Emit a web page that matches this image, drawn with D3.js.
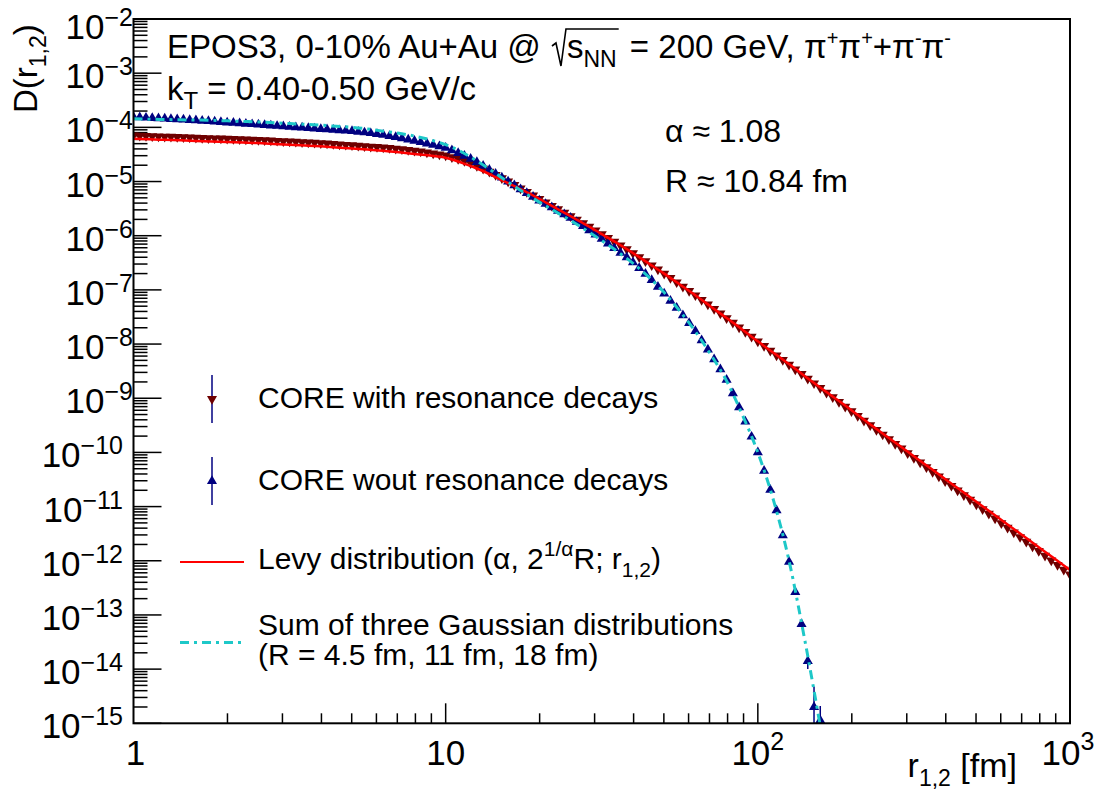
<!DOCTYPE html>
<html>
<head>
<meta charset="utf-8">
<script src="https://cdn.jsdelivr.net/npm/d3@7"></script>
<style>
  body { margin: 0; background: #fff; }
  text { font-family: "Liberation Sans", Arial, sans-serif; fill: #000; white-space: pre; }
</style>
</head>
<body>
<div id="chart"></div>
<script>
// 1: GLOBALS
const W = 1101, H = 792;
const frame = { left: 133.5, right: 1070, top: 19, bottom: 723.3 };

// 2: DATA (log10 r [fm], log10 D)
const logR = [
  0.00, 0.02, 0.04, 0.06, 0.08, 0.10, 0.12, 0.14, 0.16, 0.18,
  0.20, 0.22, 0.24, 0.26, 0.28, 0.30, 0.32, 0.34, 0.36, 0.38,
  0.40, 0.42, 0.44, 0.46, 0.48, 0.50, 0.52, 0.54, 0.56, 0.58,
  0.60, 0.62, 0.64, 0.66, 0.68, 0.70, 0.72, 0.74, 0.76, 0.78,
  0.80, 0.82, 0.84, 0.86, 0.88, 0.90, 0.92, 0.94, 0.96, 0.98,
  1.00, 1.02, 1.04, 1.06, 1.08, 1.10, 1.12, 1.14, 1.16, 1.18,
  1.20, 1.22, 1.24, 1.26, 1.28, 1.30, 1.32, 1.34, 1.36, 1.38,
  1.40, 1.42, 1.44, 1.46, 1.48, 1.50, 1.52, 1.54, 1.56, 1.58,
  1.60, 1.62, 1.64, 1.66, 1.68, 1.70, 1.72, 1.74, 1.76, 1.78,
  1.80, 1.82, 1.84, 1.86, 1.88, 1.90, 1.92, 1.94, 1.96, 1.98,
  2.00, 2.02, 2.04, 2.06, 2.08, 2.10, 2.12, 2.14, 2.16, 2.18,
  2.20, 2.22, 2.24, 2.26, 2.28, 2.30, 2.32, 2.34, 2.36, 2.38,
  2.40, 2.42, 2.44, 2.46, 2.48, 2.50, 2.52, 2.54, 2.56, 2.58,
  2.60, 2.62, 2.64, 2.66, 2.68, 2.70, 2.72, 2.74, 2.76, 2.78,
  2.80, 2.82, 2.84, 2.86, 2.88, 2.90, 2.92, 2.94, 2.96, 2.98,
  3.00
];

// CORE with resonance decays
const logDWith = [
  -4.150, -4.154, -4.158, -4.162, -4.166, -4.170, -4.174, -4.178, -4.182, -4.186,
  -4.190, -4.194, -4.198, -4.202, -4.206, -4.210, -4.214, -4.218, -4.222, -4.226,
  -4.230, -4.236, -4.242, -4.248, -4.254, -4.260, -4.266, -4.272, -4.278, -4.284,
  -4.290, -4.298, -4.306, -4.314, -4.322, -4.330, -4.338, -4.346, -4.355, -4.362,
  -4.370, -4.381, -4.392, -4.404, -4.417, -4.430, -4.446, -4.463, -4.481, -4.500,
  -4.520, -4.550, -4.582, -4.618, -4.660, -4.710, -4.764, -4.820, -4.880, -4.940,
  -5.000, -5.064, -5.128, -5.192, -5.256, -5.320, -5.384, -5.448, -5.512, -5.576,
  -5.640, -5.704, -5.768, -5.833, -5.900, -5.970, -6.040, -6.110, -6.180, -6.250,
  -6.320, -6.395, -6.470, -6.546, -6.623, -6.700, -6.780, -6.860, -6.940, -7.020,
  -7.100, -7.184, -7.268, -7.352, -7.436, -7.520, -7.606, -7.692, -7.778, -7.864,
  -7.950, -8.036, -8.122, -8.208, -8.294, -8.380, -8.466, -8.552, -8.638, -8.724,
  -8.810, -8.896, -8.982, -9.068, -9.154, -9.240, -9.326, -9.412, -9.498, -9.584,
  -9.670, -9.756, -9.842, -9.928, -10.014, -10.100, -10.186, -10.272, -10.358, -10.444,
  -10.530, -10.616, -10.702, -10.788, -10.874, -10.960, -11.046, -11.132, -11.218, -11.304,
  -11.390, -11.476, -11.562, -11.648, -11.734, -11.820, -11.906, -11.992, -12.078, -12.164,
  -12.250
];

// CORE wout resonance decays (same r bins, up to log r = 2.20)
const logDWout = [
  -3.810, -3.816, -3.822, -3.828, -3.834, -3.840, -3.846, -3.852, -3.858, -3.864,
  -3.870, -3.878, -3.886, -3.894, -3.902, -3.910, -3.918, -3.926, -3.934, -3.942,
  -3.950, -3.958, -3.966, -3.974, -3.982, -3.990, -3.998, -4.006, -4.014, -4.022,
  -4.030, -4.038, -4.046, -4.054, -4.062, -4.070, -4.082, -4.094, -4.108, -4.124,
  -4.140, -4.160, -4.180, -4.202, -4.226, -4.250, -4.274, -4.298, -4.324, -4.352,
  -4.380, -4.426, -4.474, -4.526, -4.582, -4.640, -4.710, -4.784, -4.856, -4.928,
  -5.000, -5.072, -5.144, -5.214, -5.282, -5.350, -5.414, -5.478, -5.542, -5.606,
  -5.670, -5.746, -5.822, -5.900, -5.980, -6.060, -6.144, -6.228, -6.314, -6.400,
  -6.490, -6.596, -6.704, -6.820, -6.944, -7.070, -7.200, -7.332, -7.470, -7.612,
  -7.760, -7.930, -8.100, -8.280, -8.466, -8.660, -8.910, -9.166, -9.430, -9.710,
  -10.000, -10.340, -10.690, -11.070, -11.530, -12.020, -12.580, -13.170, -13.850, -14.700,
  -15.000
];

// error bars visible on the last "wout" points
const errLogR = [2.16, 2.18, 2.20];
const errLogHi = [-13.72, -14.32, -14.68];
const errLogLo = [-14.00, -15.20, -15.50];

// fitted curves
const fitLogR = [
  0.00, 0.05, 0.10, 0.15, 0.20, 0.25, 0.30, 0.35, 0.40, 0.45,
  0.50, 0.55, 0.60, 0.65, 0.70, 0.75, 0.80, 0.85, 0.90, 0.95,
  1.00, 1.05, 1.10, 1.15, 1.20, 1.25, 1.30, 1.35, 1.40, 1.45,
  1.50, 1.55, 1.60, 1.65, 1.70, 1.75, 1.80, 1.85, 1.90, 1.95,
  2.00, 2.05, 2.10, 2.15, 2.20, 2.25, 2.30, 2.35, 2.40, 2.45,
  2.50, 2.55, 2.60, 2.65, 2.70, 2.75, 2.80, 2.85, 2.90, 2.95,
  3.00
];
const levyLogD = [
  -4.21, -4.22, -4.23, -4.24, -4.25, -4.26, -4.27, -4.28, -4.29, -4.305,
  -4.32, -4.335, -4.35, -4.37, -4.39, -4.41, -4.43, -4.46, -4.49, -4.52,
  -4.56, -4.65, -4.76, -4.89, -5.03, -5.17, -5.32, -5.48, -5.64, -5.80,
  -5.97, -6.14, -6.32, -6.51, -6.70, -6.90, -7.10, -7.31, -7.52, -7.73,
  -7.95, -8.16, -8.37, -8.59, -8.80, -9.01, -9.22, -9.44, -9.65, -9.86,
  -10.07, -10.28, -10.49, -10.70, -10.91, -11.12, -11.33, -11.54, -11.75, -11.96,
  -12.17
];
const gaussLogD = [
  -3.84, -3.85, -3.855, -3.86, -3.865, -3.87, -3.88, -3.89, -3.90, -3.915,
  -3.93, -3.945, -3.96, -3.98, -4.00, -4.03, -4.07, -4.11, -4.16, -4.23,
  -4.32, -4.45, -4.62, -4.81, -5.01, -5.20, -5.38, -5.55, -5.72, -5.90,
  -6.09, -6.29, -6.51, -6.76, -7.05, -7.39, -7.77, -8.20, -8.68, -9.30,
  -10.00, -10.88, -12.00, -13.45, -15.05
];

const yExponents = [-2, -3, -4, -5, -6, -7, -8, -9, -10, -11, -12, -13, -14, -15];
const xMajor = [1, 10, 100, 1000];
const xLabelExp = ["", "", "2", "3"];

const legendLabels = [
  "CORE with resonance decays",
  "CORE wout resonance decays"
];

// colours
const cWith = "#6e0000", cWout = "#000080", cLevy = "#ff0000", cGauss = "#1ec8c8";

// 3: SVG + SCALES
const svg = d3.select("#chart").append("svg")
  .attr("width", W).attr("height", H);

const x = d3.scaleLog().domain([1, 1000]).range([frame.left, frame.right]);
const y = d3.scaleLog().domain([1e-15, 1e-2]).range([frame.bottom, frame.top]);

svg.append("clipPath").attr("id", "clip")
  .append("rect")
  .attr("x", frame.left).attr("y", frame.top)
  .attr("width", frame.right - frame.left)
  .attr("height", frame.bottom - frame.top);

// helper: sequence of text pieces [text, size, dy]
function rich(g, x0, y0, parts, anchor) {
  let cx = x0;
  const els = [];
  parts.forEach(([t, size, dy]) => {
    const el = g.append("text")
      .attr("x", cx).attr("y", y0 + (dy || 0))
      .attr("font-size", size)
      .attr("xml:space", "preserve")
      .text(t);
    els.push(el);
    cx += el.node().getComputedTextLength();
  });
  const w = cx - x0;
  const shift = anchor === "end" ? -w : anchor === "middle" ? -w / 2 : 0;
  if (shift) els.forEach(el => el.attr("x", +el.attr("x") + shift));
  return x0 + shift + w;
}

// 4: AXES (ROOT style ticks, pointing inward)
const minorY = [];
for (let e = -15; e < -2; e++) for (let m = 2; m <= 9; m++) minorY.push(m * Math.pow(10, e));
const minorX = [];
for (let e = 0; e < 3; e++) for (let m = 2; m <= 9; m++) minorX.push(m * Math.pow(10, e));

const axes = svg.append("g").attr("stroke", "#000").attr("stroke-width", 1.5);

axes.selectAll(".ymaj").data(yExponents.slice(1)).enter().append("line")
  .attr("x1", frame.left).attr("x2", frame.left + 28)
  .attr("y1", d => y(Math.pow(10, d))).attr("y2", d => y(Math.pow(10, d)));
axes.selectAll(".ymin").data(minorY).enter().append("line")
  .attr("x1", frame.left).attr("x2", frame.left + 14)
  .attr("y1", d => y(d)).attr("y2", d => y(d));

axes.selectAll(".xmaj").data(xMajor.slice(1)).enter().append("line")
  .attr("x1", d => x(d)).attr("x2", d => x(d))
  .attr("y1", frame.bottom).attr("y2", frame.bottom - 20);
axes.selectAll(".xmin").data(minorX).enter().append("line")
  .attr("x1", d => x(d)).attr("x2", d => x(d))
  .attr("y1", frame.bottom).attr("y2", frame.bottom - 10);

// y tick labels
const labels = svg.append("g");
yExponents.forEach(e => {
  const ty = Math.max(y(Math.pow(10, e)), 24);
  const digits = String(Math.abs(e)).length;
  rich(labels, digits === 1 ? 133 : 123, ty + 15,
    [["10", 35, 0], ["\u2212" + Math.abs(e), 25, -13]], "end");
});

// x tick labels
xMajor.forEach((v, i) => {
  const parts = v === 1 ? [["1", 35, 0]] : [["10", 35, 0]];
  if (xLabelExp[i]) parts.push([xLabelExp[i], 25, -15]);
  rich(labels, v === 1000 ? x(v) - 2 : x(v) + (v === 1 ? 2 : 0), 765, parts, "middle");
});

// axis titles
rich(labels, 1017, 777, [["r", 34, 0], ["1,2", 23, 9], [" [fm]", 34, 0]], "end");
const yt = svg.append("g").attr("transform", "translate(37,113) rotate(-90)");
rich(yt, 0, 0, [["D(r", 33, 0], ["1,2", 23, 9], [")", 33, 0]]);

// 5: DATA MARKS
const plot = svg.append("g").attr("clip-path", "url(#clip)");
const tri = d3.symbol().type(d3.symbolTriangle).size(44);

const withPts = logR.map((r, i) => ({ r: Math.pow(10, r), d: Math.pow(10, logDWith[i]) }));
const woutPts = logDWout.map((v, i) => ({ r: Math.pow(10, logR[i]), d: Math.pow(10, v) }));

plot.selectAll(".pw").data(withPts).enter().append("path")
  .attr("d", tri)
  .attr("fill", cWith)
  .attr("transform", d => `translate(${x(d.r)},${y(d.d)}) rotate(180)`);

plot.selectAll(".eb").data(errLogR).enter().append("line")
  .attr("x1", d => x(Math.pow(10, d))).attr("x2", d => x(Math.pow(10, d)))
  .attr("y1", (d, i) => y(Math.pow(10, errLogHi[i])))
  .attr("y2", (d, i) => y(Math.pow(10, errLogLo[i])))
  .attr("stroke", cWout).attr("stroke-width", 1.5);

plot.selectAll(".po").data(woutPts).enter().append("path")
  .attr("d", tri)
  .attr("fill", cWout)
  .attr("transform", d => `translate(${x(d.r)},${Math.min(y(d.d), frame.bottom - 3)})`);

const line = d3.line()
  .x(d => x(d.r)).y(d => y(d.d))
  .curve(d3.curveMonotoneX);

plot.append("path")
  .datum(fitLogR.map((r, i) => ({ r: Math.pow(10, r), d: Math.pow(10, levyLogD[i]) })))
  .attr("fill", "none").attr("stroke", cLevy).attr("stroke-width", 2.5)
  .attr("d", line);

plot.append("path")
  .datum(gaussLogD.map((v, i) => ({ r: Math.pow(10, fitLogR[i]), d: Math.pow(10, v) })))
  .attr("fill", "none").attr("stroke", cGauss).attr("stroke-width", 3)
  .attr("stroke-dasharray", "9,5,3,5")
  .attr("d", line);

// frame
svg.append("rect")
  .attr("x", frame.left).attr("y", frame.top)
  .attr("width", frame.right - frame.left)
  .attr("height", frame.bottom - frame.top)
  .attr("fill", "none").attr("stroke", "#000").attr("stroke-width", 2);

// 6: TEXT
const txt = svg.append("g");
let cx = rich(txt, 167, 58, [["EPOS3, 0-10% Au+Au @ ", 33, 0]]);
// sqrt sign over s_NN
const sx = cx + 2;
const sEnd = rich(txt, sx + 15, 58, [["s", 33, 0], ["NN", 23, 9]]);
txt.append("path")
  .attr("d", `M${sx},${46} L${sx + 4},${43} L${sx + 9},${66} L${sx + 14},${29} L${sEnd + 2},${29}`)
  .attr("fill", "none").attr("stroke", "#000").attr("stroke-width", 1.6);
rich(txt, sEnd + 4, 58, [
  [" = 200 GeV, ", 33, 0], ["\u03c0", 33, 0], ["+", 20, -13], ["\u03c0", 33, 0], ["+", 20, -13],
  ["+", 33, 0], ["\u03c0", 33, 0], ["-", 20, -13], ["\u03c0", 33, 0], ["-", 20, -13]
]);
rich(txt, 167, 100, [["k", 33, 0], ["T", 24, 9], [" = 0.40-0.50 GeV/c", 33, 0]]);
rich(txt, 665, 142, [["\u03b1 \u2248 1.08", 32, 0]]);
rich(txt, 665, 192, [["R \u2248 10.84 fm", 32, 0]]);

// 7: LEGEND
const leg = svg.append("g");
const lx = 212, ltx = 258;
[[399, cWith, true], [481, cWout, false]].forEach(([ly, col, inv], i) => {
  leg.append("line").attr("x1", lx).attr("x2", lx)
    .attr("y1", ly - 24).attr("y2", ly + 24)
    .attr("stroke", cWout).attr("stroke-width", 1.5);
  leg.append("path").attr("d", tri).attr("fill", col)
    .attr("transform", `translate(${lx},${ly})` + (inv ? " rotate(180)" : ""));
  rich(leg, ltx, ly + 9, [[legendLabels[i], 30, 0]]);
});
leg.append("line").attr("x1", 180).attr("x2", 244).attr("y1", 562).attr("y2", 562)
  .attr("stroke", cLevy).attr("stroke-width", 2);
rich(leg, ltx, 569, [
  ["Levy distribution (\u03b1, 2", 30, 0], ["1/\u03b1", 21, -13], ["R; r", 30, 0],
  ["1,2", 21, 8], [")", 30, 0]
]);
leg.append("line").attr("x1", 180).attr("x2", 244).attr("y1", 642.5).attr("y2", 642.5)
  .attr("stroke", cGauss).attr("stroke-width", 3).attr("stroke-dasharray", "9,5,3,5");
rich(leg, ltx, 635, [["Sum of three Gaussian distributions", 30, 0]]);
rich(leg, ltx, 665, [["(R = 4.5 fm, 11 fm, 18 fm)", 30, 0]]);
</script>
</body>
</html>
